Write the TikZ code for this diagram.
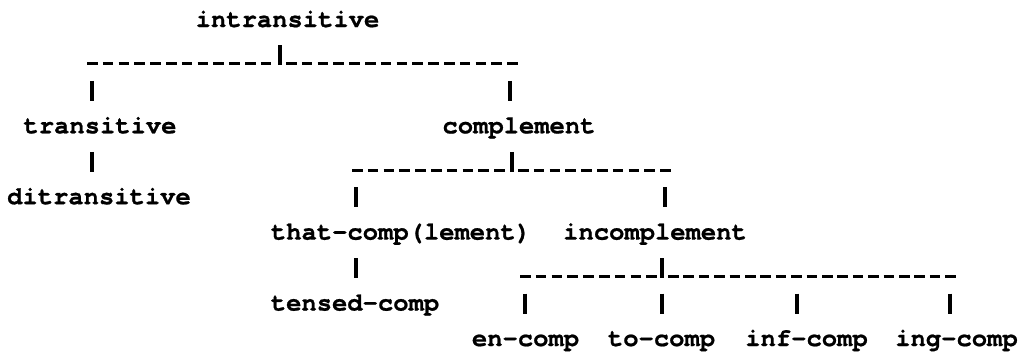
\documentclass[tikz,border=0pt]{standalone}
\usepackage{fontspec}
\newfontfamily\treefont{TeX Gyre Cursor}[BoldFeatures={FakeBold=0.8}]
\begin{document}
\begin{tikzpicture}[x=1pt,y=-1pt,
  lbl/.style={font=\treefont\bfseries\fontsize{25.5}{30}\selectfont, inner sep=0pt, anchor=base, text=black},
  bar/.style={line width=3.2pt, black},
  dashrule/.style={line width=3pt, black, dash pattern=on 10.5pt off 5.3pt},
  dashruleb/.style={line width=3pt, black, dash pattern=on 10.5pt off 4.9pt}]
\fill[white] (0,0) rectangle (1034,359);
\useasboundingbox (0,0) rectangle (1034,359);

% labels
\node[lbl] (intr)    at (287.5,27)   {intransitive};
\node[lbl] (trans)   at (100,133.3)  {transitive};
\node[lbl] (compl)   at (519,133.3)  {complement};
\node[lbl] (ditr)    at (99,204.2)   {ditransitive};
\node[lbl] (that)    at (401,239.6)  {that-comp(lement)};
\node[lbl] (incompl) at (655,239.6)  {incomplement};
\node[lbl] (tensed)  at (355,310.5)  {tensed-comp};
\node[lbl] (en)      at (525.5,346)  {en-comp};
\node[lbl] (to)      at (661.5,346)  {to-comp};
\node[lbl] (inf)     at (806.5,346)  {inf-comp};
\node[lbl] (ing)     at (956.5,346)  {ing-comp};

% --- intransitive -> transitive, complement
\coordinate (iJ)  at (280,63.9);
\coordinate (iL)  at (87,63.9);
\coordinate (iLe) at (271.3,63.9);
\coordinate (iR)  at (286,63.9);
\coordinate (iRe) at (517.7,63.9);
\coordinate (tS)  at (92,99.4);
\coordinate (cS)  at (510,99.4);
\draw[bar] ([yshift=18.5pt]iJ) -- ([yshift=-1.5pt]iJ);
\draw[dashrule] (iL) -- (iLe);
\draw[dashrule] (iR) -- (iRe);
\draw[bar] ([yshift=18.5pt]tS) -- ([yshift=-1.5pt]tS);
\draw[bar] ([yshift=18.5pt]cS) -- ([yshift=-1.5pt]cS);

% --- transitive -> ditransitive
\coordinate (tD) at (92,170.3);
\draw[bar] ([yshift=18.5pt]tD) -- ([yshift=-1.5pt]tD);

% --- complement -> that-comp, incomplement
\coordinate (cJ)  at (512,170.3);
\coordinate (cL)  at (352,170.3);
\coordinate (cLe) at (504.7,170.3);
\coordinate (cR)  at (518,170.3);
\coordinate (cRe) at (670.7,170.3);
\coordinate (thS) at (356,205.7);
\coordinate (inS) at (665,205.7);
\draw[bar] ([yshift=18.5pt]cJ) -- ([yshift=-1.5pt]cJ);
\draw[dashrule] (cL) -- (cLe);
\draw[dashrule] (cR) -- (cRe);
\draw[bar] ([yshift=18.5pt]thS) -- ([yshift=-1.5pt]thS);
\draw[bar] ([yshift=18.5pt]inS) -- ([yshift=-1.5pt]inS);

% --- that-comp -> tensed-comp
\coordinate (thD) at (356,276.6);
\draw[bar] ([yshift=18.5pt]thD) -- ([yshift=-1.5pt]thD);

% --- incomplement -> en, to, inf, ing
\coordinate (nJ)  at (662,276.6);
\coordinate (nL)  at (520,276.6);
\coordinate (nLe) at (656.9,276.6);
\coordinate (nR)  at (668,276.6);
\coordinate (nRe) at (955.7,276.6);
\coordinate (enS)  at (525,312);
\coordinate (toS)  at (662,312);
\coordinate (infS) at (797,312);
\coordinate (ingS) at (950,312);
\draw[bar] ([yshift=18.5pt]nJ) -- ([yshift=-1.5pt]nJ);
\draw[dashrule] (nL) -- (nLe);
\draw[dashruleb] (nR) -- (nRe);
\draw[bar] ([yshift=18.5pt]enS) -- ([yshift=-1.5pt]enS);
\draw[bar] ([yshift=18.5pt]toS) -- ([yshift=-1.5pt]toS);
\draw[bar] ([yshift=18.5pt]infS) -- ([yshift=-1.5pt]infS);
\draw[bar] ([yshift=18.5pt]ingS) -- ([yshift=-1.5pt]ingS);
\end{tikzpicture}
\end{document}
